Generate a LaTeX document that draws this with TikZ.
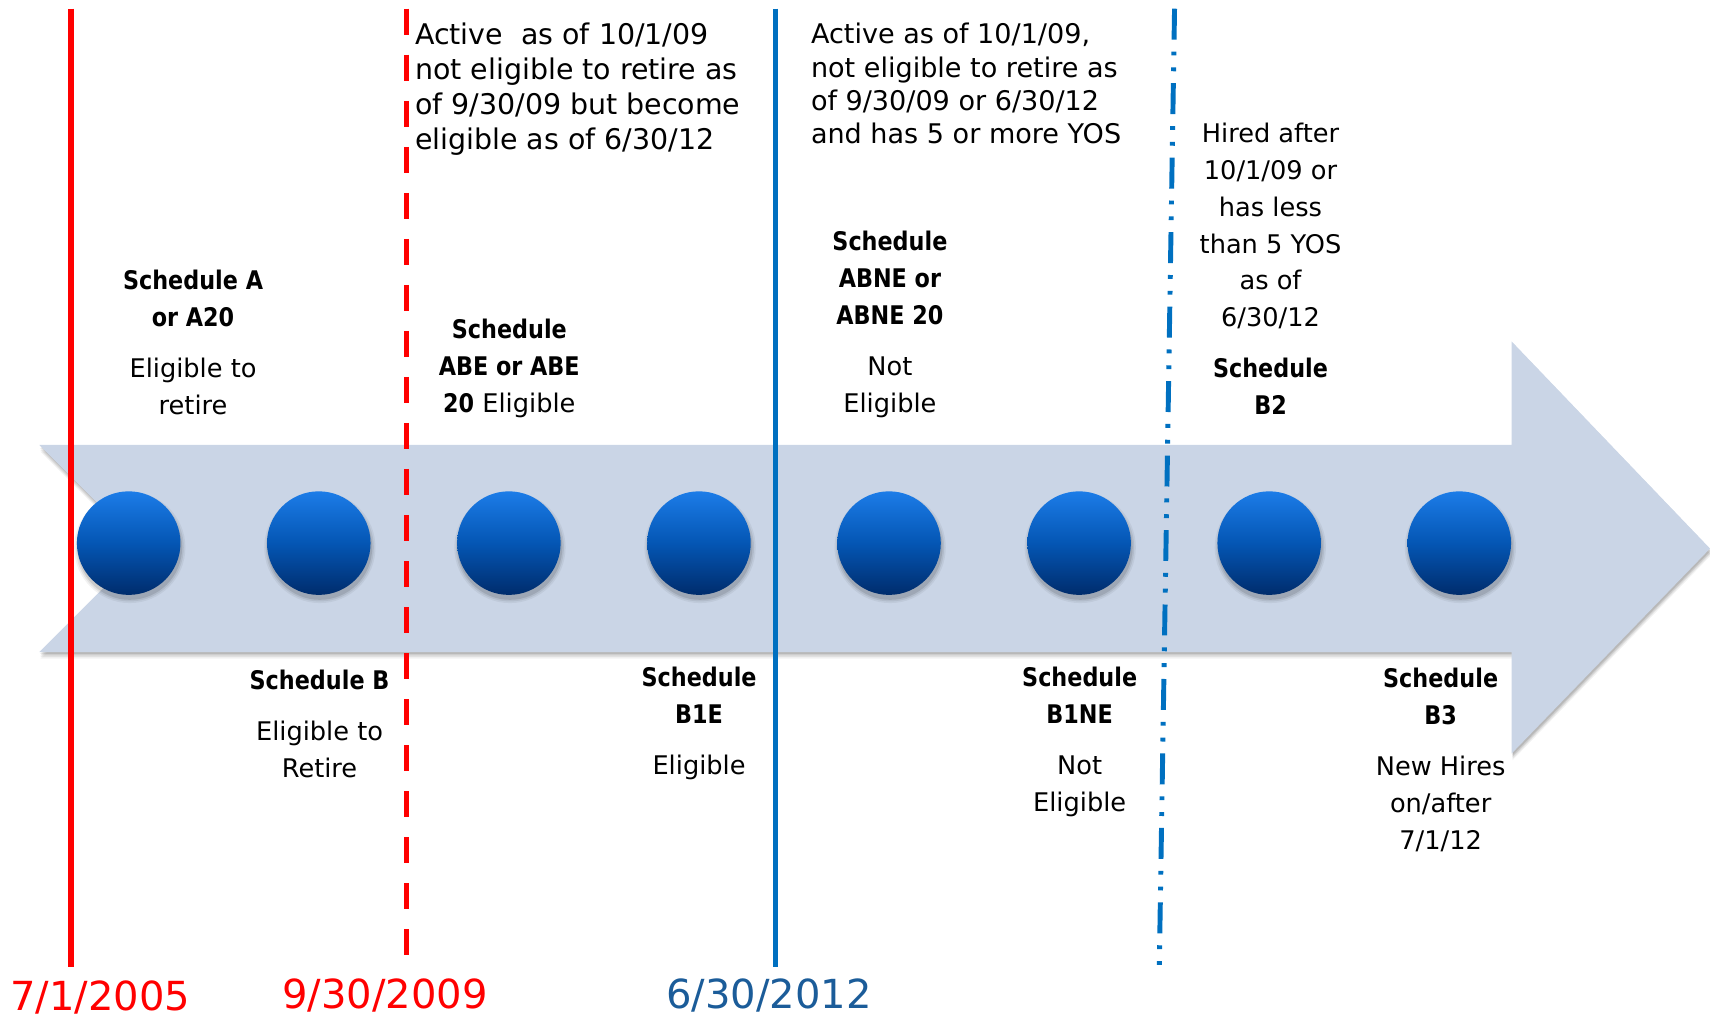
\documentclass[tikz,border=0pt]{standalone}
\usepackage{fontspec}
\setmainfont{DejaVu Sans}[BoldFeatures={FakeStretch=0.87}]
\usepackage{tikz}
\definecolor{bandblue}{RGB}{202,213,230}
\definecolor{linered}{RGB}{255,0,0}
\definecolor{lineblue}{RGB}{0,112,192}
\definecolor{dateblue}{RGB}{27,92,153}
\definecolor{balltop}{RGB}{28,124,232}
\definecolor{ballmid}{RGB}{4,86,180}
\definecolor{ballbot}{RGB}{0,44,108}
\newcommand\timeline{(36,408) -- (1386,408) -- (1386,313) -- (1568,503) -- (1386,691) -- (1386,598) -- (36,598) -- (131,503) -- cycle}

\begin{document}
\begin{tikzpicture}[x=0.010906cm,y=-0.010906cm,
  ball/.style={circle,minimum size=1.036cm,inner sep=0pt,top color=balltop,bottom color=ballbot,middle color=ballmid},
  sched/.style={align=center,inner sep=0pt,font=\fontsize{7.3}{10.5}\selectfont},
  note/.style={align=left,anchor=west,inner sep=0pt},
  date/.style={inner sep=0pt,font=\fontsize{11.4}{13}\selectfont},
  marker/.style={line width=1.5pt}]

\useasboundingbox (0,0) rectangle (1568,933);

\foreach \s/\o in {6/0.05,4.5/0.07,3/0.09,1.5/0.1}
  \fill [black,opacity=\o,shift={(1,\s)}] \timeline;
\fill [bandblue] \timeline;

\coordinate (r1t) at (65,8);    \coordinate (r1b) at (65,887);
\coordinate (r2t) at (373,8);   \coordinate (r2b) at (373,887);
\coordinate (b1t) at (711,8);   \coordinate (b1b) at (711,887);
\coordinate (b2t) at (1077,8);  \coordinate (b2b) at (1063,887);

\draw [marker,linered] (r1t) -- (r1b);
\draw [marker,linered,dash pattern=on 7.4pt off 5.7pt] (r2t) -- (r2b);
\draw [marker,lineblue] (b1t) -- (b1b);
\draw [marker,lineblue,line width=1.4pt,dash pattern=on 8.8pt off 3.4pt on 1.1pt off 3.4pt on 1.1pt off 3.4pt] (b2t) -- (b2b);

\foreach \i in {1,...,8}{
  \foreach \r/\o in {51/0.05,49.5/0.07,48/0.1}
    \fill [black,opacity=\o] ({119+174.3*(\i-1)},502) circle (\r);
  \node [ball] (c\i) at ({118+174.3*(\i-1)},498) {};
}

\node [sched] (schA) at (177,314) {\textbf{Schedule A}\\\textbf{or A20}\\[4pt]Eligible to\\retire};
\node [sched] (schABE) at (467,337.5) {\textbf{Schedule}\\\textbf{ABE or ABE}\\\textbf{20} Eligible};
\node [sched] (schABNE) at (816,297.5) {\textbf{Schedule}\\\textbf{ABNE or}\\\textbf{ABNE 20}\\[4pt]Not\\Eligible};
\node [sched] (schB2) at (1165,246.5) {Hired after\\10/1/09 or\\has less\\than 5 YOS\\as of\\6/30/12\\[4pt]\textbf{Schedule}\\\textbf{B2}};

\node [sched] (schB) at (293,663.5) {\textbf{Schedule B}\\[4pt]Eligible to\\Retire};
\node [sched] (schB1E) at (641,663.5) {\textbf{Schedule}\\\textbf{B1E}\\[4pt]Eligible};
\node [sched] (schB1NE) at (990,680.5) {\textbf{Schedule}\\\textbf{B1NE}\\[4pt]Not\\Eligible};
\node [sched] (schB3) at (1321,697) {\textbf{Schedule}\\\textbf{B3}\\[4pt]New Hires\\on/after\\7/1/12};

\node [note,font=\fontsize{8.1}{10}\selectfont] (act1) at (380,81.5)
  {Active~ as of 10/1/09\\not eligible to retire as\\of 9/30/09 but become\\eligible as of 6/30/12};
\node [note,font=\fontsize{7.7}{9.4}\selectfont] (act2) at (743,76.5)
  {Active as of 10/1/09,\\not eligible to retire as\\of 9/30/09 or 6/30/12\\and has 5 or more YOS};

\node [date,text=linered] (d1) at (92,915) {7/1/2005};
\node [date,text=linered] (d2) at (353,913) {9/30/2009};
\node [date,text=dateblue] (d3) at (705,913) {6/30/2012};

\end{tikzpicture}
\end{document}
